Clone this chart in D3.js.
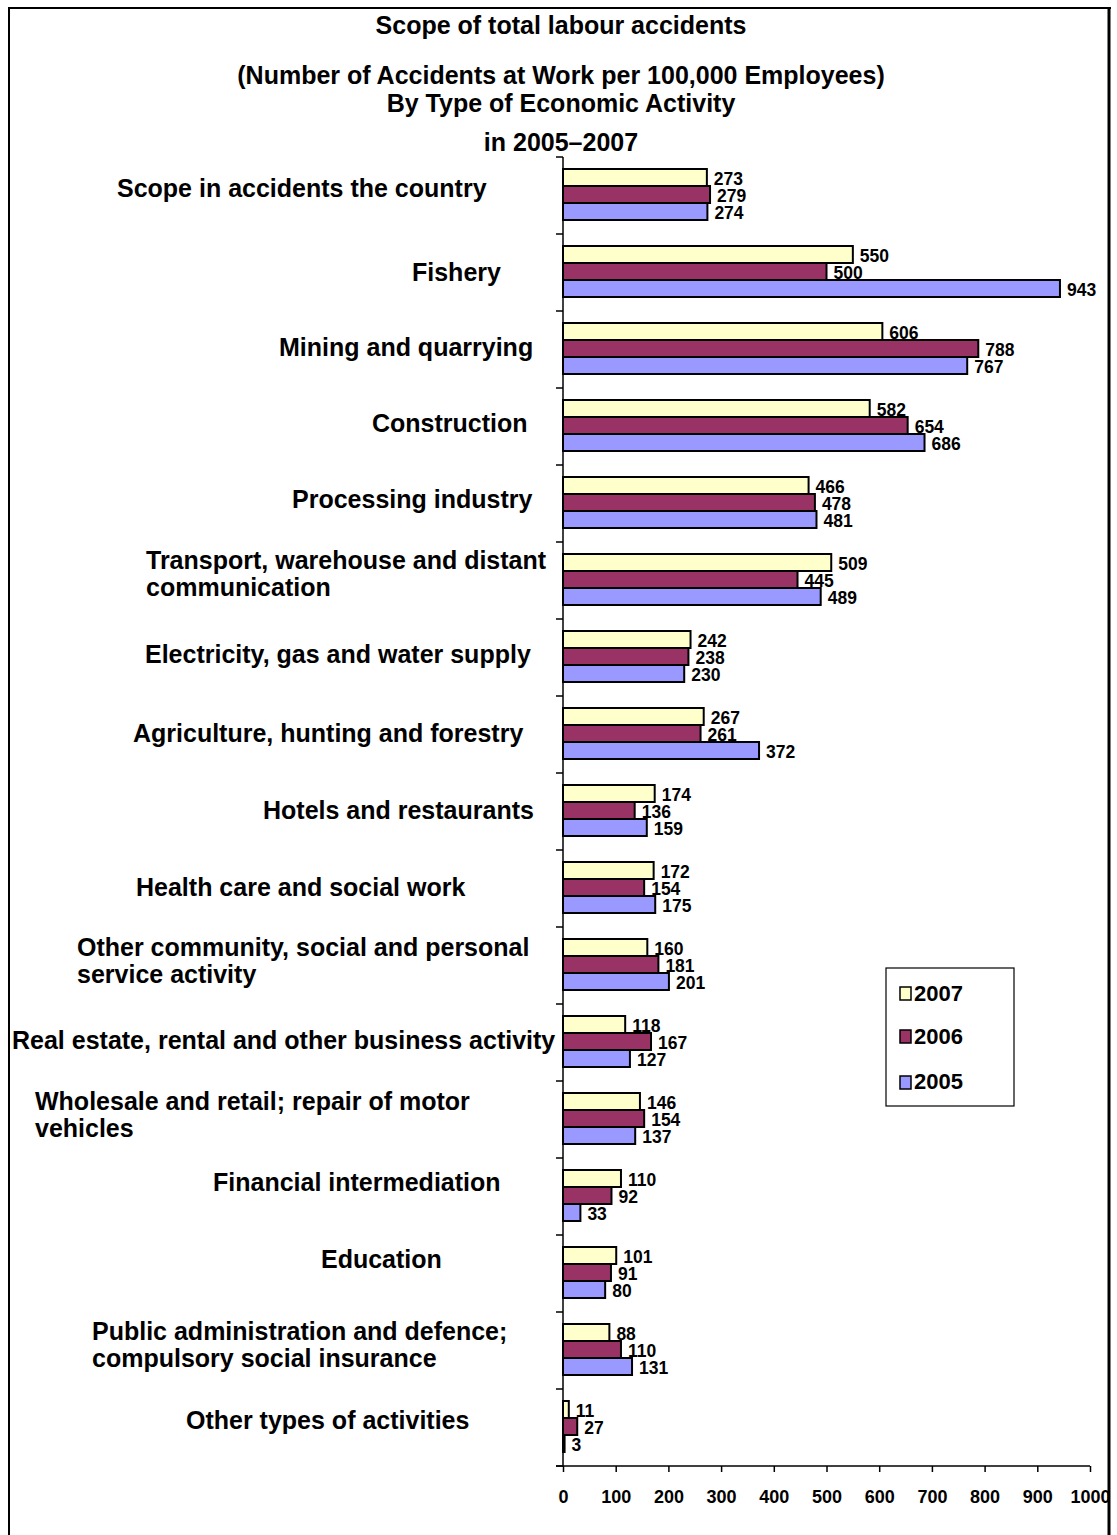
<!DOCTYPE html>
<html>
<head>
<meta charset="utf-8">
<script src="https://cdn.jsdelivr.net/npm/d3@7"></script>
<style>
html,body{margin:0;padding:0;background:#fff;}
svg{display:block;font-family:"Liberation Sans",Arial,sans-serif;font-weight:bold;}
</style>
</head>
<body>
<svg id="chart" width="1117" height="1535"></svg>
<script>
// ---- data ----
const titleLines = [
  "Scope of total labour accidents",
  "(Number of Accidents at Work per 100,000 Employees)",
  "By Type of Economic Activity",
  "in 2005\u20132007"
];
const categories = [
  "Scope in accidents the country",
  "Fishery",
  "Mining and quarrying",
  "Construction",
  "Processing industry",
  "Transport, warehouse and distant\ncommunication",
  "Electricity, gas and water supply",
  "Agriculture, hunting and forestry",
  "Hotels and restaurants",
  "Health care and social work",
  "Other community, social and personal\nservice activity",
  "Real estate, rental and other business activity",
  "Wholesale and retail; repair of motor\nvehicles",
  "Financial intermediation",
  "Education",
  "Public administration and defence;\ncompulsory social insurance",
  "Other types of activities"
];
const years = ["2007", "2006", "2005"];
const values2007 = [273, 550, 606, 582, 466, 509, 242, 267, 174, 172, 160, 118, 146, 110, 101, 88, 11];
const values2006 = [279, 500, 788, 654, 478, 445, 238, 261, 136, 154, 181, 167, 154, 92, 91, 110, 27];
const values2005 = [274, 943, 767, 686, 481, 489, 230, 372, 159, 175, 201, 127, 137, 33, 80, 131, 3];
const xTickValues = [0, 100, 200, 300, 400, 500, 600, 700, 800, 900, 1000];

// ---- layout (not data) ----
const colors = {"2007": "#FFFFCC", "2006": "#993366", "2005": "#9999FF"};
const labelLeft = [117, 412, 279, 372, 292, 146, 145, 133, 263, 136, 77, 12, 35, 213, 321, 92, 186];
const labelDy = [-7, 0, -2, -3, -4, -7, -3, -1, -1, -1, -5, -2, -5, -14, -14, -6, -7];

const series = {"2007": values2007, "2006": values2006, "2005": values2005};
const svg = d3.select("#chart");

const x = d3.scaleLinear().domain([0, 1000]).range([563, 1090]);
const y = d3.scaleBand().domain(categories).range([157, 1466]).paddingInner(0).paddingOuter(0);
const bandH = y.bandwidth();
const inner = d3.scaleBand().domain(years).range([12, bandH - 14]);

// title
svg.append("g").selectAll("text").data(titleLines).join("text")
  .attr("x", 561)
  .attr("y", (d, i) => [25, 75, 103, 142][i])
  .attr("dy", "0.35em")
  .attr("text-anchor", "middle")
  .attr("font-size", 25)
  .text(d => d);

// bars
const groups = svg.append("g").selectAll("g").data(categories).join("g")
  .attr("transform", d => `translate(0,${y(d)})`);

groups.each(function(cat, ci) {
  const g = d3.select(this);
  years.forEach(yr => {
    const v = series[yr][ci];
    g.append("rect")
      .attr("x", x(0))
      .attr("y", inner(yr))
      .attr("width", Math.max(x(v) - x(0), 1))
      .attr("height", inner.bandwidth())
      .attr("fill", colors[yr])
      .attr("stroke", "#000")
      .attr("stroke-width", 2);
    g.append("text")
      .attr("x", x(v) + 7)
      .attr("y", inner(yr) + inner.bandwidth() / 2)
      .attr("dy", "0.42em")
      .attr("font-size", 17.5)
      .text(v);
  });
});

// category labels
svg.append("g").selectAll("text").data(categories).join("text")
  .attr("font-size", 25)
  .each(function(d, i) {
    const lines = d.split("\n");
    const t = d3.select(this);
    const cy = y(d) + bandH / 2 + labelDy[i];
    const lh = 27;
    lines.forEach((ln, k) => {
      t.append("tspan")
        .attr("x", labelLeft[i])
        .attr("y", cy + (k - (lines.length - 1) / 2) * lh)
        .attr("dy", "0.35em")
        .text(ln);
    });
  });

// y axis (category axis with ticks at boundaries)
const yAxisG = svg.append("g");
yAxisG.append("line")
  .attr("x1", x(0)).attr("x2", x(0))
  .attr("y1", y.range()[0]).attr("y2", y.range()[1])
  .attr("stroke", "#000").attr("stroke-width", 1.5);
const boundaries = categories.map(c => y(c)).concat([y.range()[1]]);
yAxisG.selectAll(".yt").data(boundaries).join("line")
  .attr("x1", x(0) - 7).attr("x2", x(0))
  .attr("y1", d => d).attr("y2", d => d)
  .attr("stroke", "#000").attr("stroke-width", 1.5);

// x axis
const xAxis = d3.axisBottom(x).tickValues(xTickValues).tickSize(6).tickPadding(18).tickFormat(d3.format("d"));
const xg = svg.append("g").attr("transform", `translate(0,${y.range()[1]})`).call(xAxis);
xg.select(".domain").attr("stroke-width", 1.5).attr("d", `M${x(0) - 7},0H${x(1000)}`);
xg.selectAll(".tick line").attr("stroke-width", 1.5);
xg.selectAll(".tick text")
  .attr("font-size", 18)
  .attr("font-weight", "bold")
  .attr("font-family", "'Liberation Sans',Arial,sans-serif")
  .attr("fill", "#000");

// legend
const lg = svg.append("g").attr("transform", "translate(886,968)");
lg.append("rect").attr("width", 128).attr("height", 138)
  .attr("fill", "#fff").attr("stroke", "#000").attr("stroke-width", 1.2);
const legY = [33, 76, 121];
const legSq = [19, 62, 108];
years.forEach((yr, i) => {
  lg.append("rect")
    .attr("x", 14).attr("y", legSq[i])
    .attr("width", 11).attr("height", 13)
    .attr("fill", colors[yr]).attr("stroke", "#000").attr("stroke-width", 1.5);
  lg.append("text")
    .attr("x", 28).attr("y", legY[i])
    .attr("font-size", 22)
    .text(yr);
});

// outer frame with right-side clip
svg.append("rect").attr("x", 1110).attr("y", 0).attr("width", 10).attr("height", 1535).attr("fill", "#fff");
svg.append("line").attr("x1", 9).attr("x2", 9).attr("y1", 7).attr("y2", 1535).attr("stroke", "#000").attr("stroke-width", 2);
svg.append("line").attr("x1", 8).attr("x2", 1111).attr("y1", 8).attr("y2", 8).attr("stroke", "#000").attr("stroke-width", 2);
svg.append("line").attr("x1", 1109).attr("x2", 1109).attr("y1", 7).attr("y2", 1535).attr("stroke", "#000").attr("stroke-width", 3);
</script>
</body>
</html>
